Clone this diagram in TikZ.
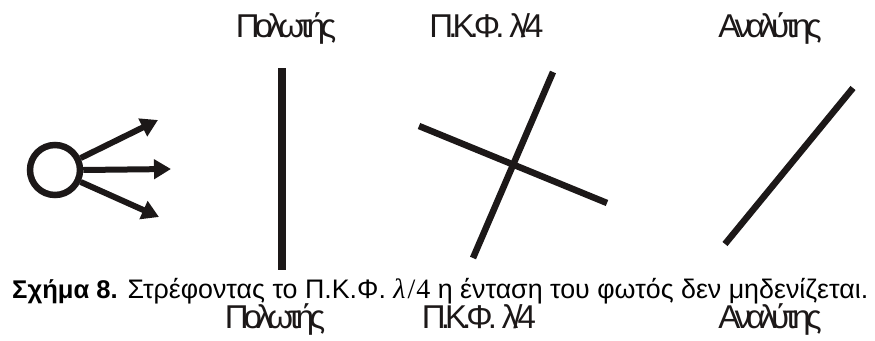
\documentclass[tikz,border=0pt]{standalone}
\usepackage{fontspec}
\setmainfont{Liberation Sans}
\newfontfamily\tight[LetterSpace=-15]{Liberation Sans}
\newfontfamily\serifgr{Liberation Serif}
\usetikzlibrary{arrows.meta}
\definecolor{ink}{RGB}{28,24,24}
\tikzset{
  bar/.style={line width=6.5pt,draw=ink},
  ray/.style={line width=6pt,draw=ink,-{Triangle[length=17pt,width=19pt]}},
  lab/.style={anchor=base,text=ink,font=\tight\fontsize{33}{36}\selectfont,inner sep=0pt},
  captext/.style={anchor=base west,text=black,font=\fontsize{26.8}{30}\selectfont,inner sep=0pt}
}
\begin{document}
\begin{tikzpicture}[x=1pt,y=-1pt]
\useasboundingbox (0,0) rectangle (875,340);
\node[lab] (l1) at (286,37) {Πολωτής};
\node[lab] (l2) at (486.5,37) {Π.Κ.Φ.\kern5pt λ/4};
\node[lab] (l3) at (770,37) {Αναλύτης};
\node[circle,draw=ink,line width=6.5pt,minimum size=50pt,inner sep=0pt] (s) at (55,170) {};
\coordinate (t1) at (158,120);
\coordinate (t2) at (171,169);
\coordinate (t3) at (159,217);
\draw[ray] (s.25) -- (t1);
\draw[ray] (s.0) -- (t2);
\draw[ray] (s.-25) -- (t3);
\coordinate (p1) at (282,68); \coordinate (p2) at (282,270);
\draw[line width=8pt,draw=ink] (p1) -- (p2);
\coordinate (q1) at (553,72); \coordinate (q2) at (473,258);
\coordinate (q3) at (419,126); \coordinate (q4) at (607,203);
\draw[bar] (q1) -- (q2);
\draw[bar] (q3) -- (q4);
\coordinate (a1) at (853,88); \coordinate (a2) at (725,244);
\draw[bar] (a1) -- (a2);
\node[captext] (c) at (12,298) {{\fontsize{25.6}{30}\selectfont\textbf{Σχήμα 8.}} Στρέφοντας το Π.Κ.Φ. {\serifgr\fontsize{28}{30}\selectfont\itshape λ\kern2pt\upshape/\kern1pt 4} η ένταση του φωτός δεν μηδενίζεται.};
\node[lab] (m1) at (275,328) {Πολωτής};
\node[lab] (m2) at (479,328) {Π.Κ.Φ.\kern5pt λ/4};
\node[lab] (m3) at (770,328) {Αναλύτης};
\end{tikzpicture}
\end{document}
